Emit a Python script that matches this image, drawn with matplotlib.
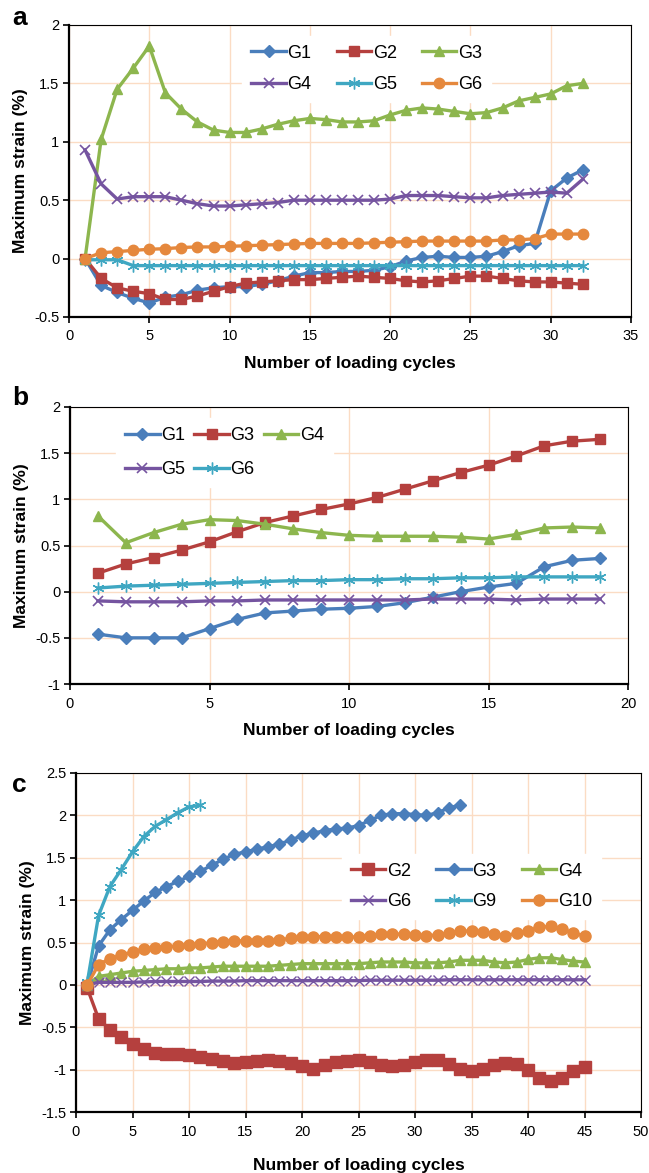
import matplotlib
matplotlib.use("Agg")
import matplotlib.pyplot as plt

plt.rcParams['font.family'] = ['Liberation Sans', 'DejaVu Sans']

# ---------------- Data: panel a ----------------
cycles_a = list(range(1, 33))
a_G1 = [0, -0.23, -0.29, -0.34, -0.38, -0.33, -0.31, -0.27, -0.25, -0.24, -0.24, -0.22, -0.19, -0.15,
        -0.12, -0.12, -0.11, -0.11, -0.10, -0.07, -0.02, 0.01, 0.02, 0.01, 0.01, 0.02, 0.06, 0.11,
        0.13, 0.58, 0.69, 0.76]
a_G2 = [0, -0.17, -0.25, -0.28, -0.30, -0.35, -0.35, -0.32, -0.28, -0.24, -0.21, -0.20, -0.19, -0.18,
        -0.18, -0.17, -0.16, -0.15, -0.16, -0.17, -0.19, -0.20, -0.19, -0.17, -0.15, -0.15, -0.17,
        -0.19, -0.20, -0.20, -0.21, -0.22]
a_G3 = [0, 1.02, 1.45, 1.63, 1.82, 1.42, 1.28, 1.17, 1.10, 1.08, 1.08, 1.11, 1.15, 1.18, 1.20, 1.19,
        1.17, 1.17, 1.18, 1.23, 1.27, 1.29, 1.28, 1.26, 1.24, 1.25, 1.29, 1.35, 1.38, 1.41, 1.48, 1.50]
a_G4 = [0.93, 0.64, 0.51, 0.53, 0.53, 0.53, 0.50, 0.47, 0.45, 0.45, 0.46, 0.47, 0.48, 0.50, 0.50,
        0.50, 0.50, 0.50, 0.50, 0.51, 0.54, 0.54, 0.54, 0.53, 0.52, 0.52, 0.54, 0.55, 0.56, 0.57,
        0.56, 0.68]
a_G5 = [-0.01, -0.01, -0.01, -0.06, -0.06, -0.06, -0.06, -0.06, -0.06, -0.06, -0.06, -0.06, -0.06,
        -0.06, -0.06, -0.06, -0.06, -0.06, -0.06, -0.06, -0.06, -0.06, -0.06, -0.06, -0.06, -0.06,
        -0.06, -0.06, -0.06, -0.06, -0.06, -0.06]
a_G6 = [0, 0.05, 0.06, 0.07, 0.08, 0.085, 0.095, 0.10, 0.10, 0.105, 0.11, 0.115, 0.12, 0.125, 0.13,
        0.13, 0.13, 0.13, 0.135, 0.14, 0.145, 0.15, 0.15, 0.15, 0.15, 0.15, 0.16, 0.16, 0.17, 0.21,
        0.21, 0.21]

# ---------------- Data: panel b ----------------
cycles_b = list(range(1, 20))
b_G1 = [-0.46, -0.50, -0.50, -0.50, -0.40, -0.30, -0.23, -0.21, -0.19, -0.18, -0.16, -0.12, -0.06,
        0.00, 0.05, 0.09, 0.27, 0.34, 0.36]
b_G3 = [0.20, 0.30, 0.37, 0.45, 0.54, 0.65, 0.75, 0.82, 0.89, 0.95, 1.02, 1.11, 1.20, 1.29, 1.37,
        1.47, 1.58, 1.63, 1.65]
b_G4 = [0.82, 0.53, 0.64, 0.73, 0.78, 0.77, 0.73, 0.68, 0.64, 0.61, 0.60, 0.60, 0.60, 0.59, 0.57,
        0.62, 0.69, 0.70, 0.69]
b_G5 = [-0.10, -0.11, -0.11, -0.11, -0.10, -0.10, -0.09, -0.09, -0.09, -0.09, -0.09, -0.09, -0.08,
        -0.08, -0.08, -0.09, -0.08, -0.08, -0.08]
b_G6 = [0.04, 0.06, 0.07, 0.08, 0.09, 0.10, 0.11, 0.12, 0.12, 0.13, 0.13, 0.14, 0.14, 0.15, 0.15,
        0.16, 0.16, 0.16, 0.16]

# ---------------- Data: panel c ----------------
cycles_c = list(range(1, 46))
c_G2 = [-0.04, -0.40, -0.53, -0.62, -0.70, -0.76, -0.80, -0.82, -0.82, -0.83, -0.85, -0.88, -0.90,
        -0.92, -0.91, -0.90, -0.89, -0.90, -0.92, -0.96, -0.99, -0.95, -0.91, -0.90, -0.89, -0.91,
        -0.94, -0.96, -0.95, -0.91, -0.89, -0.89, -0.93, -0.99, -1.02, -0.99, -0.95, -0.92, -0.93,
        -1.00, -1.10, -1.14, -1.10, -1.02, -0.97]
c_G3 = [0, 0.46, 0.65, 0.77, 0.88, 0.99, 1.09, 1.16, 1.22, 1.28, 1.34, 1.41, 1.48, 1.54, 1.57, 1.60,
        1.63, 1.66, 1.71, 1.76, 1.79, 1.82, 1.84, 1.85, 1.88, 1.94, 2.00, 2.02, 2.02, 2.01, 2.00,
        2.03, 2.09, 2.12]
c_G4 = [0, 0.10, 0.12, 0.14, 0.16, 0.17, 0.18, 0.19, 0.19, 0.20, 0.20, 0.21, 0.22, 0.22, 0.22, 0.22,
        0.22, 0.23, 0.24, 0.25, 0.25, 0.25, 0.25, 0.25, 0.25, 0.26, 0.27, 0.27, 0.27, 0.26, 0.26,
        0.26, 0.27, 0.29, 0.29, 0.29, 0.27, 0.26, 0.27, 0.30, 0.32, 0.32, 0.30, 0.28, 0.27]
c_G6 = [0, 0.03, 0.03, 0.03, 0.03, 0.035, 0.04, 0.04, 0.04, 0.04, 0.04, 0.045, 0.045, 0.045, 0.05,
        0.05, 0.05, 0.05, 0.05, 0.05, 0.05, 0.05, 0.05, 0.05, 0.05, 0.055, 0.055, 0.055, 0.055,
        0.055, 0.055, 0.055, 0.06, 0.06, 0.06, 0.06, 0.06, 0.06, 0.06, 0.06, 0.06, 0.06, 0.06,
        0.06, 0.06]
c_G9 = [0.03, 0.82, 1.16, 1.36, 1.57, 1.75, 1.87, 1.95, 2.03, 2.10, 2.12]
c_G10 = [0, 0.24, 0.31, 0.35, 0.39, 0.42, 0.44, 0.45, 0.46, 0.47, 0.48, 0.50, 0.51, 0.52, 0.52,
         0.52, 0.52, 0.53, 0.55, 0.56, 0.57, 0.57, 0.56, 0.56, 0.57, 0.58, 0.60, 0.60, 0.60, 0.59,
         0.58, 0.59, 0.61, 0.63, 0.64, 0.62, 0.60, 0.58, 0.61, 0.64, 0.68, 0.69, 0.66, 0.61, 0.58]

BLUE = '#4A7EBB'
RED = '#B5403E'
GREEN = '#8DB64E'
PURPLE = '#7554A0'
TEAL = '#3FA7C2'
ORANGE = '#E5883D'
GRID = '#FBDCC4'
STAR = (6, 2, 0)

W, H = 649, 1173
fig = plt.figure(figsize=(W / 100, H / 100), dpi=100)


def make_axes(left, right, top, bottom):
    return fig.add_axes([left / W, 1 - bottom / H, (right - left) / W, (bottom - top) / H])


def style(ax, xlim, ylim, xt, yt, ylabels, xlabelpad=9):
    ax.set_xlim(*xlim)
    ax.set_ylim(*ylim)
    ax.set_xticks(xt)
    ax.set_yticks(yt)
    ax.set_yticklabels(ylabels)
    ax.grid(True, color=GRID, lw=1.0)
    ax.set_axisbelow(True)
    for s in ['left', 'bottom']:
        ax.spines[s].set_linewidth(1.6)
    for s in ['top', 'right']:
        ax.spines[s].set_linewidth(0.8)
    ax.tick_params(direction='out', length=4, width=1.2, labelsize=10.5, pad=3,
                   top=False, right=False)
    ax.tick_params(axis='x', pad=5)
    ax.set_ylabel('Maximum strain (%)', fontsize=12.5, fontweight='bold', labelpad=4)
    ax.set_xlabel('Number of loading cycles', fontsize=12.5, fontweight='bold', labelpad=xlabelpad)


def series(ax, x, y, color, marker, ms, label, mew=1.0, z=3):
    return ax.plot(x, y, color=color, lw=2.4, marker=marker, ms=ms, mfc=color, mec=color,
                   mew=mew, label=label, zorder=z)[0]


def legend(ax, handles, cx, cy, colsp=1.4, labsp=0.75):
    lg = ax.legend(handles=handles, ncol=3, loc='center', bbox_to_anchor=(cx, cy),
                   frameon=True, fontsize=13, handlelength=1.9, handletextpad=0.1,
                   columnspacing=colsp, labelspacing=labsp, borderpad=0.5, fancybox=False)
    lg.get_frame().set_edgecolor('white')
    lg.get_frame().set_facecolor('white')
    lg.get_frame().set_alpha(1)
    return lg


# ---------------- Panel a ----------------
ax = make_axes(69, 631, 25, 317)
hG1 = series(ax, cycles_a, a_G1, BLUE, 'D', 6, 'G1')
hG2 = series(ax, cycles_a, a_G2, RED, 's', 7.5, 'G2')
hG3 = series(ax, cycles_a, a_G3, GREEN, '^', 7.5, 'G3')
hG4 = series(ax, cycles_a, a_G4, PURPLE, 'x', 7.5, 'G4', mew=1.2)
hG5 = series(ax, cycles_a, a_G5, TEAL, STAR, 8.5, 'G5', mew=1.0)
hG6 = series(ax, cycles_a, a_G6, ORANGE, 'o', 7.5, 'G6')
style(ax, (0, 35), (-0.5, 2), range(0, 36, 5), [-0.5, 0, 0.5, 1, 1.5, 2],
      ['-0.5', '0', '0.5', '1', '1.5', '2'])
legend(ax, [hG1, hG4, hG2, hG5, hG3, hG6], 0.53, 0.85, colsp=1.4, labsp=0.8)
fig.text(12 / W, 1 - 18 / H, 'a', fontsize=19, fontweight='bold', va='center', ha='left')

# ---------------- Panel b ----------------
ax = make_axes(70, 628, 407, 684)
hG1 = series(ax, cycles_b, b_G1, BLUE, 'D', 6, 'G1')
hG3 = series(ax, cycles_b, b_G3, RED, 's', 7.5, 'G3')
hG4 = series(ax, cycles_b, b_G4, GREEN, '^', 7.5, 'G4')
hG5 = series(ax, cycles_b, b_G5, PURPLE, 'x', 7.5, 'G5', mew=1.2)
hG6 = series(ax, cycles_b, b_G6, TEAL, STAR, 8.5, 'G6', mew=1.0)
style(ax, (0, 20), (-1, 2), range(0, 21, 5), [-1, -0.5, 0, 0.5, 1, 1.5, 2],
      ['-1', '-0.5', '0', '0.5', '1', '1.5', '2'])
legend(ax, [hG1, hG5, hG3, hG6, hG4], 0.277, 0.835, colsp=0.5, labsp=0.95)
fig.text(12 / W, 1 - 398 / H, 'b', fontsize=19, fontweight='bold', va='center', ha='left')

# ---------------- Panel c ----------------
ax = make_axes(76, 641, 773, 1112)
hG2 = series(ax, cycles_c, c_G2, RED, 's', 8, 'G2')
hG3 = series(ax, cycles_c[:len(c_G3)], c_G3, BLUE, 'D', 6.5, 'G3')
hG4 = series(ax, cycles_c, c_G4, GREEN, '^', 6.5, 'G4')
hG6 = series(ax, cycles_c, c_G6, PURPLE, 'x', 6.5, 'G6', mew=1.0)
hG9 = series(ax, cycles_c[:len(c_G9)], c_G9, TEAL, STAR, 8.5, 'G9', mew=1.0)
hG10 = series(ax, cycles_c, c_G10, ORANGE, 'o', 8, 'G10')
style(ax, (0, 50), (-1.5, 2.5), range(0, 51, 5), [-1.5, -1, -0.5, 0, 0.5, 1, 1.5, 2, 2.5],
      ['-1.5', '-1', '-0.5', '0', '0.5', '1', '1.5', '2', '2.5'], xlabelpad=14)
legend(ax, [hG2, hG6, hG3, hG9, hG4, hG10], 0.70, 0.665)
fig.text(12 / W, 1 - 785 / H, 'c', fontsize=19, fontweight='bold', va='center', ha='left')

fig.savefig('out.png', dpi=100)
